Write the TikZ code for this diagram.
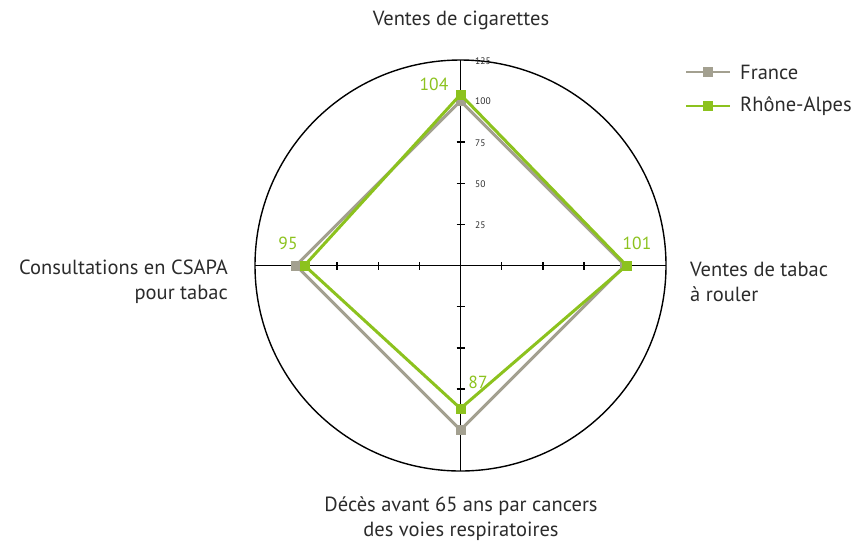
\documentclass[tikz,border=0pt]{standalone}
\usepackage{fontspec}
\setmainfont{PT Sans}
\definecolor{frgray}{HTML}{A3A090}
\definecolor{ragreen}{HTML}{8CC21E}
\definecolor{txt}{HTML}{2B2B2B}
\begin{document}
\begin{tikzpicture}[x=1pt,y=-1pt,
  axisline/.style={line width=1.6pt,draw=black},
  tickmark/.style={line width=1.6pt,draw=black},
  franceline/.style={line width=3pt,draw=frgray,line join=miter},
  rhoneline/.style={line width=3pt,draw=ragreen,line join=miter},
  frmark/.style={rectangle,fill=frgray,minimum size=10pt,inner sep=0pt},
  ramark/.style={rectangle,fill=ragreen,minimum size=10pt,inner sep=0pt},
  axlabel/.style={font=\fontsize{20.5}{25}\selectfont,text=txt,inner sep=0pt},
  ticklabel/.style={font=\fontsize{9.5}{10}\selectfont,text=txt,inner sep=0pt,anchor=west},
  vallabel/.style={font=\fontsize{17.5}{20}\selectfont,text=ragreen,inner sep=0pt}]
\useasboundingbox (0,0) rectangle (854,542);
\coordinate (c) at (460.5,265.5);
% circle and axes
\draw[line width=1.4pt] (c) circle[radius=205.5];
\coordinate (atop) at (460.5,60);
\coordinate (abot) at (460.5,471);
\coordinate (alft) at (255,265.5);
\coordinate (argt) at (666,265.5);
\draw[axisline] (atop) -- (abot);
\draw[axisline] (alft) -- (argt);
% ticks
\foreach \d in {41.1,82.2,123.4,164.5}{
  \draw[tickmark] ([xshift=-4pt,yshift=\d pt]c) -- ([xshift=4pt,yshift=\d pt]c);
  \draw[tickmark] ([xshift=-4pt,yshift=-\d pt]c) -- ([xshift=4pt,yshift=-\d pt]c);
  \draw[tickmark] ([xshift=\d pt,yshift=-4pt]c) -- ([xshift=\d pt,yshift=4pt]c);
  \draw[tickmark] ([xshift=-\d pt,yshift=-4pt]c) -- ([xshift=-\d pt,yshift=4pt]c);
}
\node[ticklabel] (t125) at (475,61) {125};
\node[ticklabel] (t100) at (475,101.5) {100};
\node[ticklabel] (t75) at (475,143) {75};
\node[ticklabel] (t50) at (475,184) {50};
\node[ticklabel] (t25) at (475,225) {25};
% France
\node[frmark] (f1) at (460.5,101) {};
\node[frmark] (f2) at (625,265.5) {};
\node[frmark] (f3) at (460.5,430) {};
\node[frmark] (f4) at (296,265.5) {};
\draw[franceline] (f1.center) -- (f2.center) -- (f3.center) -- (f4.center) -- cycle;
% Rhone-Alpes
\node[ramark] (g1) at (460.5,94.5) {};
\node[ramark] (g2) at (626.5,265.5) {};
\node[ramark] (g3) at (460.5,408.5) {};
\node[ramark] (g4) at (304.5,265.5) {};
\draw[rhoneline] (g1.center) -- (g2.center) -- (g3.center) -- (g4.center) -- cycle;
\node[ramark] at (g1) {};
\node[ramark] at (g2) {};
\node[ramark] at (g3) {};
\node[ramark] at (g4) {};
% value labels
\node[vallabel] (v104) at (434,84) {104};
\node[vallabel] (v101) at (637,243) {101};
\node[vallabel] (v95) at (288,243) {95};
\node[vallabel] (v87) at (478,382) {87};
% axis labels
\node[axlabel] (ltop) at (461,20) {Ventes de cigarettes};
\node[axlabel,anchor=west,align=left] (lrgt) at (690,282) {Ventes de tabac\\à rouler};
\node[axlabel,anchor=east,align=right] (llft) at (228,282) {Consultations en CSAPA\\pour tabac};
\node[axlabel,align=center] (lbot) at (461,519) {Décès avant 65 ans par cancers\\des voies respiratoires};
% legend
\coordinate (fa) at (686,72); \coordinate (fb) at (730,72);
\coordinate (ra) at (686,106); \coordinate (rb) at (730,106);
\draw[line width=2pt,draw=frgray] (fa) -- (fb);
\node[frmark] (lf) at (708,72) {};
\draw[line width=2pt,draw=ragreen] (ra) -- (rb);
\node[ramark] (lr) at (708,106) {};
\node[axlabel,anchor=west] (lft) at (740,72) {France};
\node[axlabel,anchor=west] (lrt) at (740,106) {Rhône-Alpes};
\end{tikzpicture}
\end{document}
